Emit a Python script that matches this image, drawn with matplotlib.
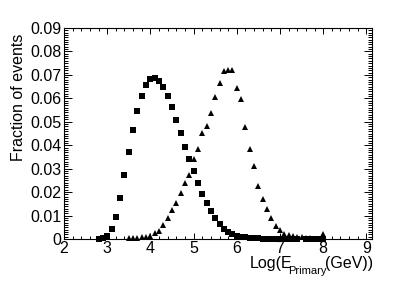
import matplotlib
matplotlib.use("Agg")
import matplotlib.pyplot as plt
from matplotlib.ticker import MultipleLocator, FuncFormatter

plt.rcParams['font.family'] = ['Liberation Sans', 'DejaVu Sans']

# Square series (log10 E, fraction)
sq_x = [2.8, 2.9, 3.0, 3.1, 3.2, 3.3, 3.4, 3.5, 3.6, 3.7, 3.8, 3.9, 4.0, 4.1, 4.2, 4.3,
        4.4, 4.5, 4.6, 4.7, 4.8, 4.9, 5.0, 5.1, 5.2, 5.3, 5.4, 5.5, 5.6, 5.7, 5.8, 5.9,
        6.0, 6.1, 6.2, 6.3, 6.4, 6.5, 6.6, 6.7, 6.8, 6.9, 7.0, 7.1, 7.2, 7.3, 7.4,
        7.6, 7.7, 7.8, 7.9, 8.0]
sq_y = [0.0, 0.0003, 0.0014, 0.0041, 0.0095, 0.0174, 0.0272, 0.0370, 0.0465, 0.0547,
        0.0608, 0.0655, 0.0682, 0.0688, 0.0674, 0.0647, 0.0608, 0.0561, 0.0508, 0.0452,
        0.0394, 0.0342, 0.0288, 0.0240, 0.0194, 0.0155, 0.0119, 0.0088, 0.0063, 0.0043,
        0.0031, 0.0021, 0.0014, 0.0010, 0.0007, 0.0005, 0.0004, 0.0003, 0.0002, 0.0002,
        0.0001, 0.0001, 0.0001, 0.0001, 0.0001, 0.0001, 0.0,
        0.0, 0.0, 0.0, 0.0, 0.0]

# Triangle series
tr_x = [3.5, 3.6, 3.7, 3.8, 3.9, 4.0, 4.1, 4.2, 4.3, 4.4, 4.5, 4.6, 4.7, 4.8, 4.9, 5.0,
        5.1, 5.2, 5.3, 5.4, 5.5, 5.6, 5.7, 5.8, 5.9, 6.0, 6.1, 6.2, 6.3, 6.4, 6.5, 6.6,
        6.7, 6.8, 6.9, 7.0, 7.1, 7.2, 7.3, 7.4, 7.5, 7.6, 7.7, 7.8, 7.9, 8.0]
tr_y = [0.0003, 0.0005, 0.0005, 0.0007, 0.0007, 0.0014, 0.0026, 0.0034, 0.0060, 0.0091,
        0.0122, 0.0155, 0.0195, 0.0237, 0.0275, 0.0341, 0.0382, 0.0451, 0.0482, 0.0539,
        0.0607, 0.0666, 0.0717, 0.0721, 0.0721, 0.0644, 0.0597, 0.0478, 0.0383, 0.0313,
        0.0227, 0.0169, 0.0127, 0.0088, 0.0057, 0.0038, 0.0021, 0.0017, 0.0013, 0.0010,
        0.0007, 0.0003, 0.0003, 0.0002, 0.0002, 0.0020]

x_ticks = [2, 3, 4, 5, 6, 7, 8, 9]
y_ticks = [0, 0.01, 0.02, 0.03, 0.04, 0.05, 0.06, 0.07, 0.08, 0.09]

W, H = 415, 282
fig = plt.figure(figsize=(W / 100, H / 100), dpi=100)
ax = fig.add_axes([64 / W, 1 - 239 / H, (372 - 64) / W, (239 - 28) / H])

ax.plot(sq_x, sq_y, linestyle='none', marker='s', markersize=3.8, color='black',
        markeredgewidth=0, clip_on=False)
ax.plot(tr_x, tr_y, linestyle='none', marker='^', markersize=4.0, color='black',
        markeredgewidth=0, clip_on=False)

ax.set_xlim(2, 9.13)
ax.set_ylim(0, 0.09)
ax.set_xticks(x_ticks)
ax.set_yticks(y_ticks)
ax.xaxis.set_minor_locator(MultipleLocator(0.2))
ax.yaxis.set_minor_locator(MultipleLocator(0.001))
ax.yaxis.set_major_formatter(FuncFormatter(lambda v, p: '0' if abs(v) < 1e-12 else '%.2f' % v))

for s in ax.spines.values():
    s.set_linewidth(0.8)
ax.tick_params(axis='both', which='both', direction='in', top=True, right=True,
               width=0.7, labelsize=11.5, colors='black')
ax.tick_params(axis='x', which='major', length=4.5, pad=1.5)
ax.tick_params(axis='x', which='minor', length=2.3)
ax.tick_params(axis='y', which='major', length=5.5, pad=2)
ax.tick_params(axis='y', which='minor', length=2.8)

fig.text(18.5 / W, 1 - 97 / H, 'Fraction of events', rotation=90, ha='center', va='center',
         fontsize=11.5)
# x-axis title composed of pieces (main text + lowered small subscript)
fig.text(249.5 / W, 1 - 268 / H, 'Log(E', ha='left', va='baseline', fontsize=11.5)
fig.text(288.5 / W, 1 - 273.5 / H, 'Primary', ha='left', va='baseline', fontsize=8)
fig.text(373 / W, 1 - 268 / H, '(GeV))', ha='right', va='baseline', fontsize=11.5)

fig.savefig('out.png', dpi=100)
